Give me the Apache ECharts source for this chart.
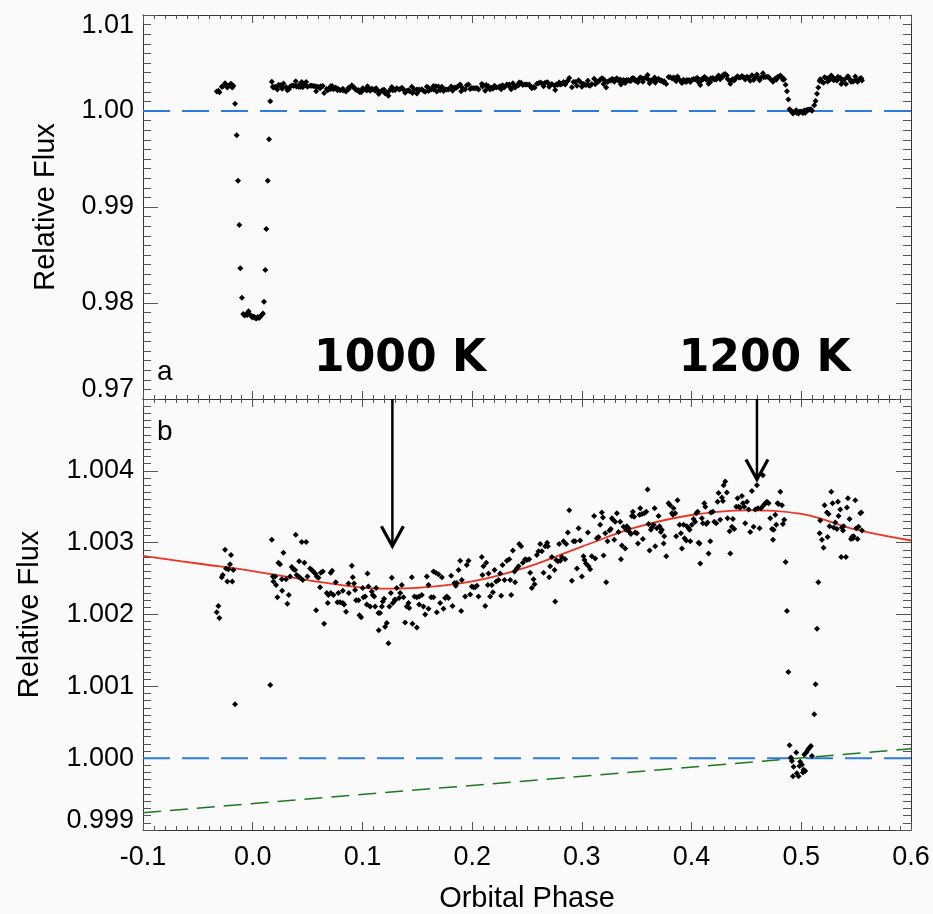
<!DOCTYPE html>
<html><head><meta charset="utf-8">
<script src="https://cdn.jsdelivr.net/npm/echarts@6/dist/echarts.min.js"></script>
<style>html,body{margin:0;padding:0;background:#fafafa}#c{width:933px;height:914px}</style>
</head><body><div id="c"></div>
<script>
// ---------------- DATA ----------------
const xTickValues = [-0.1, 0.0, 0.1, 0.2, 0.3, 0.4, 0.5, 0.6];
const yTicksA = [0.97, 0.98, 0.99, 1.00, 1.01];
const yTicksB = [0.999, 1.000, 1.001, 1.002, 1.003, 1.004];

const preTransit = [[-0.0328,1.00203],[-0.0313,1.00212],[-0.0304,1.00195],[-0.0282,1.00252],[-0.0273,1.00255],[-0.0252,1.00290],[-0.0243,1.00264],[-0.0231,1.00246],[-0.0222,1.00263],[-0.0207,1.00270],[-0.0198,1.00283],[-0.0186,1.00246],[-0.0177,1.00262]];

const transit = [[-0.0161,1.00075],[-0.0146,0.99747],[-0.0134,0.99274],[-0.0122,0.98813],[-0.0113,0.98361],[-0.0098,0.98055],
[-0.0086,0.97885],[-0.0074,0.97870],[-0.0062,0.97880],[-0.0050,0.97875],[-0.0038,0.97915],[-0.0026,0.97880],[-0.0014,0.97865],[-0.0002,0.97850],[0.0010,0.97860],[0.0022,0.97845],[0.0034,0.97838],[0.0046,0.97855],[0.0058,0.97845],[0.0070,0.97860],[0.0082,0.97875],[0.0093,0.97890],
[0.0103,0.98014],[0.0115,0.98344],[0.0124,0.98771],[0.0137,0.99274],[0.0149,0.99705],[0.0160,1.00102]];

const orbitA = [[0.0174,1.00304],[0.0392,1.00311],[0.0447,1.00301],[0.0487,1.00301],[0.0280,1.00286],[0.0234,1.00272],[0.0249,1.00270],[0.0423,1.00274],[0.0471,1.00272],[0.0183,1.00253],[0.0204,1.00253],[0.0189,1.00246],[0.0213,1.00241],[0.0265,1.00249],[0.0304,1.00249],[0.0341,1.00253],[0.0356,1.00266],[0.0371,1.00263],[0.0386,1.00262],[0.0401,1.00255],[0.0417,1.00253],[0.0432,1.00251],[0.0456,1.00248],[0.0499,1.00253],[0.0523,1.00264],[0.0538,1.00262],[0.0553,1.00260],[0.0569,1.00257],[0.0584,1.00253],[0.0599,1.00251],[0.0620,1.00258],[0.0639,1.00260],[0.0614,1.00238],[0.0225,1.00224],[0.0268,1.00233],[0.0329,1.00227],[0.0316,1.00215],[0.0578,1.00206],[0.0651,1.00187],[0.0684,1.00216],[0.0675,1.00230],[0.0690,1.00227],[0.0711,1.00258],[0.0724,1.00261],[0.0711,1.00230],[0.0736,1.00227],[0.0757,1.00245],[0.0781,1.00230],[0.0772,1.00217],[0.0797,1.00217],[0.0821,1.00216],[0.0833,1.00214],[0.0851,1.00204],[0.0821,1.00233],[0.0873,1.00243],[0.0876,1.00230],[0.0903,1.00268],[0.0912,1.00252],[0.0924,1.00243],[0.0933,1.00234],[0.0942,1.00220],[0.0964,1.00220],[0.0973,1.00199],[0.0988,1.00196],[0.1003,1.00237],[0.1009,1.00224],[0.1025,1.00225],[0.1040,1.00214],[0.1046,1.00257],[0.1055,1.00239],[0.1070,1.00211],[0.1085,1.00232],[0.1094,1.00227],[0.1107,1.00225],[0.1116,1.00211],[0.1125,1.00237],[0.1146,1.00202],[0.1161,1.00202],[0.1149,1.00178],[0.1177,1.00211],[0.1186,1.00218],[0.1198,1.00222],[0.1207,1.00183],[0.1222,1.00188],[0.1237,1.00160],[0.1246,1.00211],[0.1259,1.00230],[0.1268,1.00251],[0.1277,1.00216],[0.1295,1.00221]];

const orbitB = [[0.1313,1.00237],[0.1344,1.00230],[0.1298,1.00220],[0.1334,1.00223],[0.1374,1.00224],[0.1359,1.00241],[0.1450,1.00252],[0.1420,1.00216],[0.1404,1.00211],[0.1426,1.00209],[0.1389,1.00189],[0.1456,1.00187],[0.1496,1.00182],[0.1474,1.00225],[0.1496,1.00224],[0.1517,1.00225],[0.1541,1.00227],[0.1517,1.00214],[0.1556,1.00211],[0.1572,1.00200],[0.1602,1.00208],[0.1587,1.00253],[0.1602,1.00241],[0.1626,1.00224],[0.1648,1.00224],[0.1648,1.00260],[0.1669,1.00258],[0.1693,1.00256],[0.1724,1.00252],[0.1678,1.00203],[0.1708,1.00216],[0.1739,1.00208],[0.1754,1.00223],[0.1769,1.00225],[0.1784,1.00223],[0.1821,1.00212],[0.1809,1.00254],[0.1839,1.00244],[0.1860,1.00244],[0.1876,1.00262],[0.1891,1.00275],[0.1951,1.00269],[0.1967,1.00275],[0.1851,1.00240],[0.1906,1.00248],[0.1900,1.00205],[0.1936,1.00225],[0.1982,1.00228],[0.1997,1.00239],[0.2012,1.00238],[0.2027,1.00238],[0.2043,1.00240],[0.2058,1.00225],[0.2088,1.00280],[0.2103,1.00267],[0.2128,1.00272],[0.2094,1.00255],[0.2119,1.00212],[0.2143,1.00241],[0.2149,1.00257],[0.2164,1.00225],[0.2179,1.00241],[0.2189,1.00231],[0.2204,1.00262],[0.2219,1.00246],[0.2240,1.00248],[0.2255,1.00257],[0.2265,1.00226],[0.2277,1.00269],[0.2295,1.00248],[0.2316,1.00275],[0.2338,1.00277],[0.2347,1.00248],[0.2356,1.00227],[0.2371,1.00289],[0.2386,1.00260],[0.2392,1.00245],[0.2407,1.00264],[0.2423,1.00267],[0.2429,1.00298],[0.2447,1.00295],[0.2462,1.00272],[0.2483,1.00277],[0.2499,1.00276],[0.2520,1.00277],[0.2529,1.00258],[0.2544,1.00237],[0.2559,1.00249],[0.2569,1.00242],[0.2590,1.00283],[0.2605,1.00288],[0.2620,1.00298],[0.2635,1.00288],[0.2651,1.00258],[0.2666,1.00295],[0.2684,1.00300],[0.2690,1.00295],[0.2702,1.00252],[0.2711,1.00267],[0.2727,1.00280],[0.2751,1.00262],[0.2757,1.00218],[0.2766,1.00276],[0.2781,1.00274],[0.2793,1.00298],[0.2803,1.00275],[0.2818,1.00280],[0.2833,1.00302],[0.2848,1.00277],[0.2857,1.00298],[0.2872,1.00314],[0.2885,1.00345],[0.2909,1.00247],[0.2924,1.00302],[0.2939,1.00302],[0.2955,1.00264],[0.2970,1.00320],[0.2985,1.00303],[0.3000,1.00253],[0.3015,1.00281],[0.3024,1.00276],[0.3037,1.00271],[0.3055,1.00314],[0.3061,1.00267],[0.3076,1.00263]];

const orbitC = [[0.3091,1.00281],[0.3122,1.00278],[0.3112,1.00337],[0.3152,1.00308],[0.3137,1.00306],[0.3167,1.00325],[0.3182,1.00342],[0.3192,1.00335],[0.3198,1.00282],[0.3213,1.00313],[0.3222,1.00245],[0.3234,1.00302],[0.3252,1.00317],[0.3264,1.00319],[0.3274,1.00334],[0.3283,1.00332],[0.3295,1.00304],[0.3304,1.00329],[0.3319,1.00341],[0.3334,1.00315],[0.3350,1.00329],[0.3356,1.00277],[0.3365,1.00296],[0.3380,1.00322],[0.3395,1.00292],[0.3404,1.00318],[0.3410,1.00323],[0.3426,1.00320],[0.3435,1.00315],[0.3447,1.00312],[0.3456,1.00337],[0.3465,1.00343],[0.3477,1.00336],[0.3486,1.00314],[0.3502,1.00313],[0.3511,1.00299],[0.3526,1.00339],[0.3532,1.00348],[0.3547,1.00340],[0.3556,1.00305],[0.3568,1.00341],[0.3587,1.00343],[0.3599,1.00374],[0.3608,1.00326],[0.3617,1.00289],[0.3629,1.00318],[0.3638,1.00321],[0.3654,1.00325],[0.3663,1.00348],[0.3669,1.00295],[0.3684,1.00320],[0.3699,1.00337],[0.3708,1.00323],[0.3720,1.00315],[0.3729,1.00318],[0.3745,1.00299],[0.3751,1.00309],[0.3769,1.00281],[0.3790,1.00355],[0.3805,1.00352],[0.3821,1.00341],[0.3830,1.00339],[0.3836,1.00348],[0.3851,1.00341],[0.3860,1.00309],[0.3872,1.00359],[0.3891,1.00325],[0.3903,1.00313],[0.3912,1.00292],[0.3927,1.00325],[0.3936,1.00306],[0.3951,1.00303],[0.3957,1.00323],[0.3973,1.00320],[0.3982,1.00318],[0.3988,1.00302],[0.4003,1.00325],[0.4018,1.00333],[0.4033,1.00329],[0.4043,1.00341],[0.4055,1.00343],[0.4064,1.00300],[0.4073,1.00299],[0.4079,1.00271],[0.4094,1.00334],[0.4103,1.00327],[0.4116,1.00355],[0.4125,1.00350],[0.4134,1.00326],[0.4146,1.00328],[0.4155,1.00285],[0.4170,1.00302],[0.4176,1.00342],[0.4195,1.00343],[0.4207,1.00329],[0.4225,1.00327],[0.4237,1.00357],[0.4246,1.00369],[0.4261,1.00332],[0.4277,1.00363],[0.4286,1.00358],[0.4292,1.00380],[0.4307,1.00385],[0.4322,1.00370],[0.4328,1.00334],[0.4347,1.00316],[0.4353,1.00285],[0.4368,1.00322],[0.4377,1.00333],[0.4389,1.00319],[0.4407,1.00350],[0.4419,1.00362],[0.4429,1.00350],[0.4444,1.00349],[0.4459,1.00365],[0.4468,1.00355],[0.4480,1.00350],[0.4489,1.00327],[0.4505,1.00357],[0.4520,1.00346],[0.4535,1.00315],[0.4550,1.00372],[0.4565,1.00322],[0.4581,1.00346],[0.4596,1.00380],[0.4605,1.00348],[0.4620,1.00320],[0.4632,1.00348],[0.4650,1.00394],[0.4657,1.00352],[0.4672,1.00355],[0.4687,1.00357],[0.4702,1.00355],[0.4717,1.00334],[0.4733,1.00319],[0.4742,1.00304],[0.4748,1.00318],[0.4763,1.00339],[0.4772,1.00325],[0.4784,1.00355],[0.4793,1.00354],[0.4809,1.00371],[0.4824,1.00352],[0.4833,1.00326],[0.4845,1.00332]];

const eclipse = [[0.4857,1.00273],[0.4869,1.00205],[0.4882,1.00120],
[0.4893,1.00018],[0.4905,1.00001],[0.4915,0.99996],[0.4924,0.99975],[0.4930,0.99988],[0.4954,1.00008],[0.4960,0.99979],[0.4975,0.99975],[0.4984,0.99989],[0.4990,0.99995],[0.5006,0.99991],[0.5015,0.99980],[0.5021,0.99984],[0.5027,1.00005],[0.5036,0.99982],[0.5045,1.00008],[0.5057,1.00011],[0.5067,1.00013],[0.5076,1.00015],[0.5088,1.00017],[0.5097,1.00003],
[0.5118,1.00061],[0.5130,1.00103],[0.5143,1.00180],[0.5155,1.00245]];

const postEclipse = [[0.5167,1.00313],[0.5173,1.00331],[0.5188,1.00304],[0.5203,1.00293],[0.5212,1.00352],[0.5234,1.00342],[0.5240,1.00308],[0.5249,1.00340],[0.5258,1.00323],[0.5273,1.00371],[0.5285,1.00355],[0.5295,1.00321],[0.5310,1.00328],[0.5325,1.00319],[0.5334,1.00357],[0.5340,1.00337],[0.5355,1.00346],[0.5364,1.00280],[0.5370,1.00321],[0.5380,1.00317],[0.5386,1.00323],[0.5407,1.00280],[0.5416,1.00349],[0.5425,1.00362],[0.5440,1.00333],[0.5453,1.00305],[0.5462,1.00308],[0.5471,1.00306],[0.5477,1.00309],[0.5492,1.00359],[0.5501,1.00320],[0.5513,1.00305],[0.5522,1.00322],[0.5538,1.00341],[0.5547,1.00342],[0.5553,1.00317]];

// phase-curve model (red)
const modelPhase = [-0.1, -0.05, 0.0, 0.05, 0.1, 0.125, 0.15, 0.2, 0.25, 0.3, 0.35, 0.4, 0.45, 0.5, 0.55, 0.6];
const modelFlux  = [1.002815, 1.00271, 1.002605, 1.00248, 1.002375, 1.00236, 1.00237, 1.00246, 1.00266, 1.002945, 1.003215, 1.003385, 1.00345, 1.0034, 1.00318, 1.00303];

// linear trend (green dashed)
const trendPhase = [-0.1, 0.6];
const trendFlux  = [0.99924, 1.00013];

// unit-flux reference (blue dashed)
const unitPhase = [-0.1, 0.6];
const unitFlux  = [1.0, 1.0];

// annotations
const tempLabels = ['1000 K', '1200 K'];
const tempPhase  = [0.1273, 0.4596];
const arrowTipFlux = [1.00295, 1.00388];

// ---------------- CHART ----------------
const observations = [].concat(preTransit, transit, orbitA, orbitB, orbitC, eclipse, postEclipse);
const zipPairs = (xs, ys) => xs.map((x, i) => [x, ys[i]]);

const FONT = '"Liberation Sans", Arial, Helvetica, sans-serif';
const AX = '#333';
const TK = '#555';

function xAxisDef(grid, pos, withLabels) {
  return {
    type: 'value', gridIndex: grid, position: pos,
    min: xTickValues[0], max: xTickValues[xTickValues.length - 1], interval: 0.1,
    axisLine: { show: true, onZero: false, lineStyle: { color: AX, width: 1 } },
    axisTick: { show: true, inside: true, length: 8, lineStyle: { color: TK, width: 1 } },
    minorTick: { show: true, splitNumber: 10, length: 4, lineStyle: { color: TK, width: 1 } },
    splitLine: { show: false }, minorSplitLine: { show: false },
    axisLabel: {
      show: withLabels, margin: 14, fontFamily: FONT, fontSize: 27, color: '#000',
      formatter: v => v.toFixed(1)
    },
    name: withLabels ? 'Orbital Phase' : '', nameLocation: 'middle', nameGap: 54,
    nameTextStyle: { fontFamily: FONT, fontSize: 29, color: '#000' }
  };
}

function yAxisDef(grid, pos, ticks, decimals, withLabels, nameGap, hideMax) {
  const step = +(ticks[1] - ticks[0]).toFixed(6);
  const top = hideMax ? ticks[ticks.length - 1] + step : ticks[ticks.length - 1];
  return {
    type: 'value', gridIndex: grid, position: pos,
    min: ticks[0], max: +top.toFixed(6),
    interval: step,
    axisLine: { show: true, onZero: false, lineStyle: { color: AX, width: 1 } },
    axisTick: { show: true, inside: true, length: 15, lineStyle: { color: TK, width: 1 } },
    minorTick: { show: true, splitNumber: 10, length: 8, lineStyle: { color: TK, width: 1 } },
    splitLine: { show: false }, minorSplitLine: { show: false },
    axisLabel: {
      show: withLabels, margin: 9, fontFamily: FONT, fontSize: 27, color: '#000',
      verticalAlignMinLabel: 'bottom',
      verticalAlignMaxLabel: hideMax ? 'middle' : 'top',
      rich: {
        lo: { fontFamily: FONT, fontSize: 27, color: '#000', lineHeight: 19 },
        hi: { fontFamily: FONT, fontSize: 27, color: '#000', lineHeight: 21 }
      },
      formatter: v => {
        if (hideMax && Math.abs(v - top) < step / 100) return '';
        const s = v.toFixed(decimals);
        if (Math.abs(v - ticks[0]) < step / 100) return '{lo|' + s + '}';
        if (Math.abs(v - top) < step / 100) return '{hi|' + s + '}';
        return s;
      }
    },
    name: withLabels ? 'Relative Flux' : '', nameLocation: 'middle', nameGap: nameGap, nameRotate: 90,
    nameTextStyle: { fontFamily: FONT, fontSize: 29, color: '#000' }
  };
}

const chart = echarts.init(document.getElementById('c'), null, { renderer: 'canvas' });

const option = {
  animation: false,
  backgroundColor: '#fafafa',
  grid: [
    { left: 143, top: 15, width: 768, height: 384 },
    { left: 143, top: 399, width: 768, height: 431 }
  ],
  xAxis: [
    xAxisDef(0, 'bottom', false),
    xAxisDef(0, 'top', false),
    xAxisDef(1, 'top', false),
    xAxisDef(1, 'bottom', true)
  ],
  yAxis: [
    yAxisDef(0, 'left', yTicksA, 2, true, 83, false),
    yAxisDef(0, 'right', yTicksA, 2, false, 0, false),
    yAxisDef(1, 'left', yTicksB, 3, true, 99, true),
    yAxisDef(1, 'right', yTicksB, 3, false, 0, true)
  ],
  graphic: [
    { type: 'text', left: 157, top: 358, style: { text: 'a', font: '28px ' + FONT, fill: '#000' } },
    { type: 'text', left: 157, top: 418, style: { text: 'b', font: '28px ' + FONT, fill: '#000' } }
  ],
  series: [
    // panel a
    { type: 'line', xAxisIndex: 0, yAxisIndex: 0, data: zipPairs(unitPhase, unitFlux), symbol: 'none',
      lineStyle: { color: '#2c7be0', width: 2, type: [27, 12] }, z: 2, silent: true },
    { type: 'scatter', xAxisIndex: 0, yAxisIndex: 0, data: observations, symbol: 'diamond', symbolSize: 6,
      itemStyle: { color: '#000', opacity: 1 }, z: 3, silent: true, clip: true },
    { type: 'scatter', xAxisIndex: 0, yAxisIndex: 0, symbolSize: 0, silent: true, z: 5,
      itemStyle: { opacity: 1 },
      data: tempLabels.map((t, i) => ({ name: t, value: [tempPhase[i] + 0.007, 0.9741] })),
      label: { show: true, position: 'inside', formatter: p => p.name, opacity: 1,
        textBorderWidth: 0, textShadowBlur: 0,
        fontFamily: '"DejaVu Sans", Verdana, sans-serif', fontWeight: 'bold', fontSize: 44, color: '#000' } },
    // panel b
    { type: 'line', xAxisIndex: 3, yAxisIndex: 2, data: zipPairs(unitPhase, unitFlux), symbol: 'none',
      lineStyle: { color: '#2c7be0', width: 2, type: [27, 12] }, z: 2, silent: true },
    { type: 'line', xAxisIndex: 3, yAxisIndex: 2, data: zipPairs(trendPhase, trendFlux), symbol: 'none',
      lineStyle: { color: '#1c7a1c', width: 1.5, type: [18, 9] }, z: 2, silent: true },
    { type: 'line', xAxisIndex: 3, yAxisIndex: 2, data: zipPairs(modelPhase, modelFlux), symbol: 'none', smooth: 0.4,
      lineStyle: { color: '#ee3322', width: 1.8 }, z: 3, silent: true },
    { type: 'scatter', xAxisIndex: 3, yAxisIndex: 2, data: observations, symbol: 'diamond', symbolSize: 6,
      itemStyle: { color: '#000', opacity: 1 }, z: 4, silent: true, clip: true },
    { type: 'custom', xAxisIndex: 3, yAxisIndex: 2, silent: true, z: 6,
      data: tempPhase.map((p, i) => [p, 1.005, arrowTipFlux[i]]),
      encode: { x: 0, y: [1, 2] },
      renderItem: (params, api) => {
        const p0 = api.coord([api.value(0), api.value(1)]);
        const p1 = api.coord([api.value(0), api.value(2)]);
        return { type: 'group', children: [
          { type: 'line', shape: { x1: p0[0], y1: p0[1], x2: p1[0], y2: p1[1] }, style: { stroke: '#000', lineWidth: 2.5 } },
          { type: 'polyline', shape: { points: [[p1[0] - 11, p1[1] - 20], [p1[0], p1[1]], [p1[0] + 11, p1[1] - 20]] },
            style: { stroke: '#000', lineWidth: 3.2, fill: null } }
        ] };
      } }
  ]
};
chart.setOption(option);
</script>
</body></html>
